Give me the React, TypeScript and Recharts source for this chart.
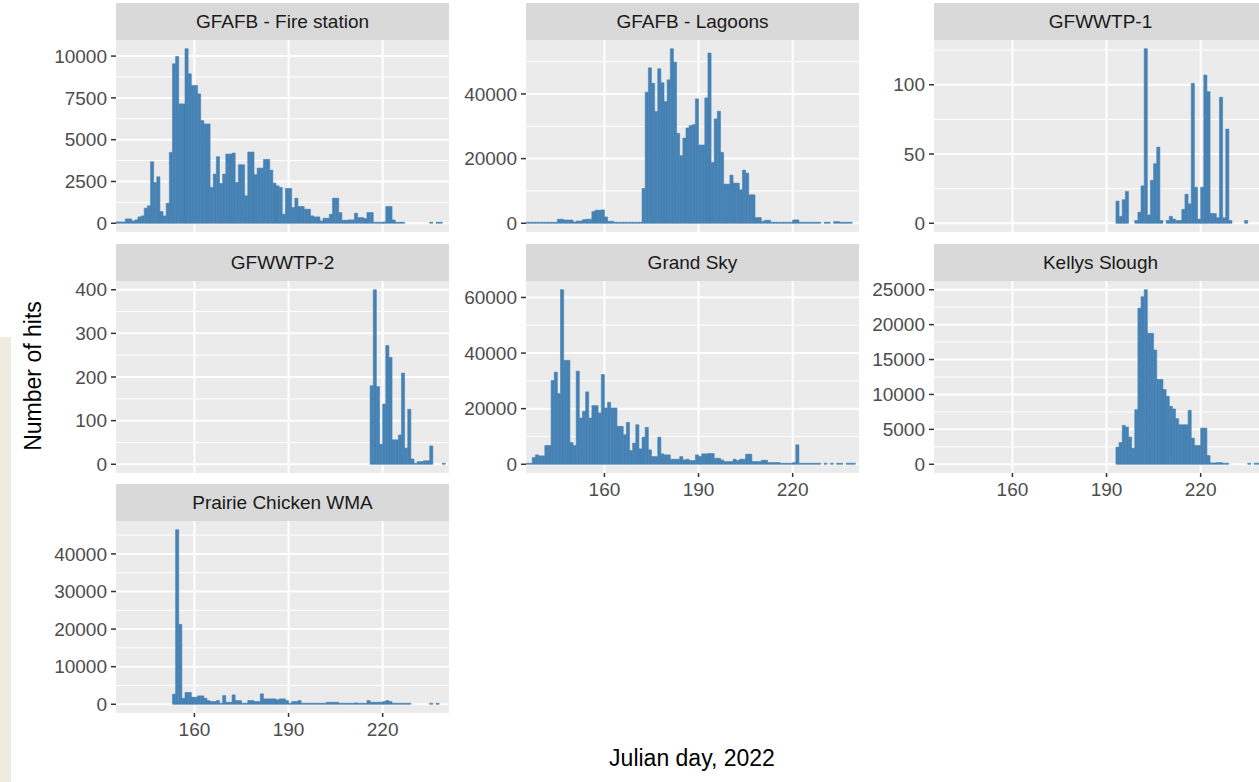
import React from "react";
import { BarChart, Bar, XAxis, YAxis, CartesianGrid } from "recharts";

// daily hit counts, one value per day starting at day 135 (null = no recording)
const firstDay = 135;

const fireStation = [
  80, 80, 80, 260, 260, 140, 200, 380, 440, 900,
  1040, 3680, 2440, 2780, 700, 440, 1200, 4240, 9540, 9980,
  7140, 7140, 10440, 8940, 8240, 8240, 7740, 6140, 5940, 5940,
  2140, 2940, 3980, 2380, 2940, 4140, 4140, 4200, 2440, 3500,
  3500, 1640, 4260, 4260, 2900, 3300, 3300, 3820, 3820, 3180,
  2400, 2240, 2140, 540, 2080, 2080, 940, 1500, 1000, 1000,
  840, 840, 440, 380, 380, 140, 300, 300, 540, 1500,
  1500, 640, 180, 180, 200, 200, 600, 340, 340, 280,
  640, 640, 40, 40, 40, 80, 1000, 1000, 200, 40,
  40, 40, null, null, null, null, null, null, null, null,
  40, null, 40, 40, null,
];

const lagoons = [
  200, 200, 200, 200, 200, 200, 200, 200, 200, 200,
  1240, 1240, 1000, 1000, 1000, 400, 700, 700, 1100, 1240,
  1240, 3600, 4030, 4030, 4140, 1960, 620, 620, 200, 200,
  200, 200, 200, 200, 200, 200, 200, 10750, 40530, 48080,
  43320, 34540, 47770, 43430, 37640, 44360, 53980, 49840, 27810, 20890,
  26370, 29470, 30190, 30500, 38470, 24200, 24200, 38780, 52630, 18820,
  32260, 34640, 21920, 12100, 12100, 14890, 12410, 12410, 10340, 16440,
  15510, 8790, 8790, 1760, 1760, 620, 930, 930, 200, 200,
  200, 200, 200, 200, 200, 1030, 1030, 200, 200, 200,
  200, 200, 200, 200, null, 200, 200, null, 500, 500,
  200, 200, 200, 200, null,
];

const gfwwtp1 = [
  null, null, null, null, null, null, null, null, null, null,
  null, null, null, null, null, null, null, null, null, null,
  null, null, null, null, null, null, null, null, null, null,
  null, null, null, null, null, null, null, null, null, null,
  null, null, null, null, null, null, null, null, null, null,
  null, null, null, null, null, null, null, null, 16, 5,
  17, 23, null, null, 2, 8, 27, 126, 6, 31,
  43, 55, 2, null, 2, 5, 3, 2, 2, 10,
  21, 14, 101, 26, 3, 26, 107, 95, 7, 7,
  4, 91, 4, 68, 2, null, null, null, null, 2,
  null, null, null, null, null,
];

const gfwwtp2 = [
  null, null, null, null, null, null, null, null, null, null,
  null, null, null, null, null, null, null, null, null, null,
  null, null, null, null, null, null, null, null, null, null,
  null, null, null, null, null, null, null, null, null, null,
  null, null, null, null, null, null, null, null, null, null,
  null, null, null, null, null, null, null, null, null, null,
  null, null, null, null, null, null, null, null, null, null,
  null, null, null, null, null, null, null, null, null, null,
  null, 180, 400, 178, 46, 138, 272, 245, 56, 56,
  67, 209, 37, 126, 12, 2, 6, 6, 8, 8,
  42, null, null, null, 2,
];

const grandSky = [
  360, 360, 2410, 3370, 3010, 3010, 6750, 6750, 30120, 33140,
  25420, 62780, 37360, 37360, 7830, 6750, 33500, 16630, 19040, 26030,
  16630, 21090, 21090, 18440, 32290, 20240, 22290, 20240, 20240, 13620,
  13620, 10600, 15060, 4940, 7590, 14220, 5540, 9760, 13260, 5180,
  2770, 2770, 9760, 3740, 3370, 3370, 1810, 1810, 1810, 2770,
  1570, 1810, 1330, 1330, 3370, 2770, 3740, 3740, 3860, 3860,
  2170, 2170, 1570, 960, 960, 960, 1810, 1330, 1810, 1810,
  3620, 3620, 960, 960, 960, 1450, 1450, 600, 600, 600,
  600, 360, 360, 360, 360, 600, 6990, 360, 240, 240,
  240, 240, 240, 240, null, 240, null, 240, null, 240,
  240, null, 240, 240, 240,
];

const kellysSlough = [
  null, null, null, null, null, null, null, null, null, null,
  null, null, null, null, null, null, null, null, null, null,
  null, null, null, null, null, null, null, null, null, null,
  null, null, null, null, null, null, null, null, null, null,
  null, null, null, null, null, null, null, null, null, null,
  null, null, null, null, null, null, null, null, 2450, 3120,
  5570, 5330, 3890, 2300, 7820, 22360, 23990, 25000, 18760, 18760,
  16360, 12140, 12140, 10700, 9740, 8300, 7920, 6530, 5660, 5660,
  5660, 7730, 3740, 2690, 2690, 5180, 5180, 1250, 190, 190,
  240, 240, 50, 50, null, null, null, null, null, null,
  140, null, 50, 50, null,
];

const prairieChicken = [
  null, null, null, null, null, null, null, null, null, null,
  null, null, null, null, null, null, null, null, 2680, 46440,
  21250, 1600, 3130, 3130, 1880, 1880, 2230, 2230, 1600, 980,
  710, 710, 980, 270, 2320, 540, 540, 2500, 980, 980,
  270, 270, 980, 980, 710, 710, 2770, 1430, 1430, 1430,
  1430, 1160, 1430, 1430, 980, 270, 710, 710, 980, 270,
  270, 270, 270, 270, 270, 270, 270, 540, 540, 540,
  540, 270, 90, 90, 90, 90, 360, 90, 90, 90,
  980, 540, 540, 540, 540, 710, 980, 710, 90, 90,
  90, 90, 90, 90, null, null, null, null, null, null,
  90, null, 90, null, null,
];

const xTicks = [160, 190, 220];

const panels = [
  { title: "GFAFB - Fire station", values: fireStation, col: 0, row: 0, showX: false,
    yTicks: [0, 2500, 5000, 7500, 10000], yMinor: [1250, 3750, 6250, 8750] },
  { title: "GFAFB - Lagoons", values: lagoons, col: 1, row: 0, showX: false,
    yTicks: [0, 20000, 40000], yMinor: [10000, 30000, 50000] },
  { title: "GFWWTP-1", values: gfwwtp1, col: 2, row: 0, showX: false,
    yTicks: [0, 50, 100], yMinor: [25, 75, 125] },
  { title: "GFWWTP-2", values: gfwwtp2, col: 0, row: 1, showX: false,
    yTicks: [0, 100, 200, 300, 400], yMinor: [50, 150, 250, 350] },
  { title: "Grand Sky", values: grandSky, col: 1, row: 1, showX: true,
    yTicks: [0, 20000, 40000, 60000], yMinor: [10000, 30000, 50000] },
  { title: "Kellys Slough", values: kellysSlough, col: 2, row: 1, showX: true,
    yTicks: [0, 5000, 10000, 15000, 20000, 25000], yMinor: [2500, 7500, 12500, 17500, 22500] },
  { title: "Prairie Chicken WMA", values: prairieChicken, col: 0, row: 2, showX: true,
    yTicks: [0, 10000, 20000, 30000, 40000], yMinor: [5000, 15000, 25000, 35000, 45000] },
];

const COL_LEFT = [116, 526, 934];
const ROW_TOP = [40, 281, 521];
const PANEL_W = 333;
const PANEL_H = 192;
const STRIP_H = 37;
const AXIS_W = 90;
const XAXIS_H = 34;
const PAD = 12; // spare room above/below the panel so edge tick labels are not clipped
const X_DOMAIN = [135, 241.15];
const BAR_COLOR = "#4682B4";

const tickText = { fill: "#4D4D4D", fontSize: 19 };
const tickLine = { stroke: "#333333", strokeWidth: 1.5 };

const Panel = ({ p }: { p: (typeof panels)[number] }) => {
  const left = COL_LEFT[p.col];
  const top = ROW_TOP[p.row];
  // histogram bins [day, day + 1), drawn at bin centre
  const data = p.values
    .map((v, i) => ({ x: firstDay + i + 0.5, hits: v }))
    .filter((d) => d.hits !== null);
  const max = Math.max(...data.map((d) => d.hits as number));

  return (
    <>
      <div
        style={{
          position: "absolute",
          left,
          top: top - STRIP_H,
          width: PANEL_W,
          height: STRIP_H,
          background: "#D9D9D9",
          color: "#1A1A1A",
          fontSize: 19,
          lineHeight: `${STRIP_H}px`,
          textAlign: "center",
        }}
      >
        {p.title}
      </div>
      <div style={{ position: "absolute", left: left - AXIS_W, top: top - PAD }}>
        <BarChart
          width={AXIS_W + PANEL_W}
          height={PAD + PANEL_H + (p.showX ? XAXIS_H : PAD)}
          data={data}
          margin={{ top: PAD, right: 0, bottom: p.showX ? 0 : PAD, left: 0 }}
          barCategoryGap={0}
          barGap={0}
        >
          <CartesianGrid
            fill="#EBEBEB"
            stroke="#FFFFFF"
            strokeWidth={1}
            vertical={false}
            horizontalValues={p.yMinor}
          />
          <CartesianGrid
            fill="none"
            stroke="#FFFFFF"
            strokeWidth={2}
            horizontalValues={p.yTicks}
            verticalValues={xTicks}
          />
          <XAxis
            type="number"
            dataKey="x"
            domain={X_DOMAIN}
            ticks={xTicks}
            allowDataOverflow
            hide={!p.showX}
            height={XAXIS_H}
            axisLine={false}
            tickSize={4}
            tickMargin={6}
            tick={tickText}
            tickLine={tickLine}
            interval={0}
          />
          <YAxis
            type="number"
            domain={[-0.05 * max, 1.05 * max]}
            ticks={p.yTicks}
            allowDataOverflow
            width={AXIS_W}
            axisLine={false}
            tickSize={5}
            tickMargin={4}
            tick={tickText}
            tickLine={tickLine}
            interval={0}
          />
          <Bar
            dataKey="hits"
            fill={BAR_COLOR}
            stroke={BAR_COLOR}
            strokeWidth={0.6}
            barSize={3.13}
            minPointSize={1}
            isAnimationActive={false}
          />
        </BarChart>
      </div>
    </>
  );
};

export default function App() {
  return (
    <div
      style={{
        position: "absolute",
        left: 0,
        top: 0,
        width: 1259,
        height: 782,
        overflow: "hidden",
        background: "#FFFFFF",
        fontFamily: "'Liberation Sans', Arial, sans-serif",
      }}
    >
      <div style={{ position: "absolute", left: 0, top: 337, width: 11, height: 445, background: "#EEECE1" }} />
      {panels.map((p) => (
        <Panel key={p.title} p={p} />
      ))}
      <div
        style={{
          position: "absolute",
          left: 33,
          top: 376,
          transform: "translate(-50%, -50%) rotate(-90deg)",
          whiteSpace: "nowrap",
          fontSize: 23,
          color: "#000000",
        }}
      >
        Number of hits
      </div>
      <div
        style={{
          position: "absolute",
          left: 692,
          top: 758,
          transform: "translate(-50%, -50%)",
          whiteSpace: "nowrap",
          fontSize: 23,
          color: "#000000",
        }}
      >
        Julian day, 2022
      </div>
    </div>
  );
}
